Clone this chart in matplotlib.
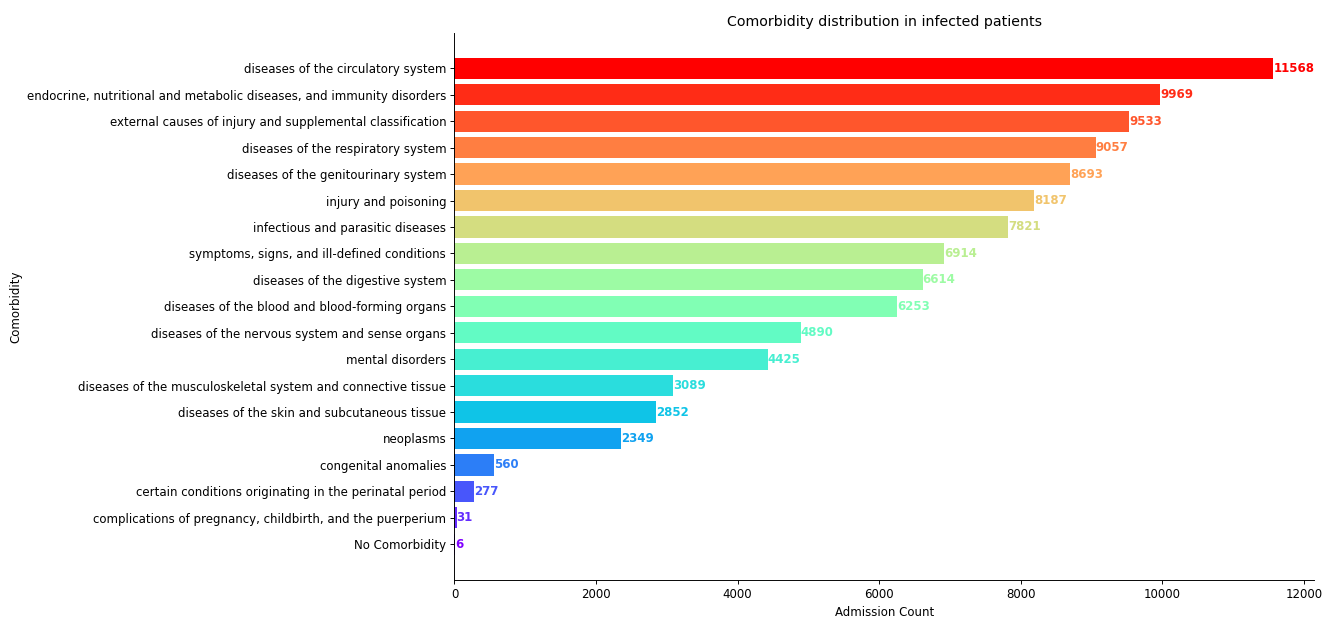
import numpy as np
import matplotlib
matplotlib.use("Agg")
import matplotlib.pyplot as plt

categories = [
    "No Comorbidity",
    "complications of pregnancy, childbirth, and the puerperium",
    "certain conditions originating in the perinatal period",
    "congenital anomalies",
    "neoplasms",
    "diseases of the skin and subcutaneous tissue",
    "diseases of the musculoskeletal system and connective tissue",
    "mental disorders",
    "diseases of the nervous system and sense organs",
    "diseases of the blood and blood-forming organs",
    "diseases of the digestive system",
    "symptoms, signs, and ill-defined conditions",
    "infectious and parasitic diseases",
    "injury and poisoning",
    "diseases of the genitourinary system",
    "diseases of the respiratory system",
    "external causes of injury and supplemental classification",
    "endocrine, nutritional and metabolic diseases, and immunity disorders",
    "diseases of the circulatory system",
]
counts = [6, 31, 277, 560, 2349, 2852, 3089, 4425, 4890, 6253,
          6614, 6914, 7821, 8187, 8693, 9057, 9533, 9969, 11568]

colors = plt.cm.rainbow(np.linspace(0, 1, len(counts)))

DPI = 85
fig, ax = plt.subplots(figsize=(1325 / DPI, 620 / DPI), dpi=DPI)
y = np.arange(len(categories))
ax.barh(y, counts, color=colors)
ax.set_yticks(y)
ax.set_yticklabels(categories)

# value labels next to each bar, same colour as the bar
for i, v in enumerate(counts):
    ax.text(v, i, str(v), color=colors[i], va="center", ha="left", fontweight="bold")

ax.set_xlabel("Admission Count")
ax.set_ylabel("Comorbidity")
ax.set_title("Comorbidity distribution in infected patients")
ax.spines["top"].set_visible(False)
ax.spines["right"].set_visible(False)

plt.subplots_adjust(left=0.343, right=0.992, top=0.947, bottom=0.065)
plt.savefig("out.png", dpi=DPI)
